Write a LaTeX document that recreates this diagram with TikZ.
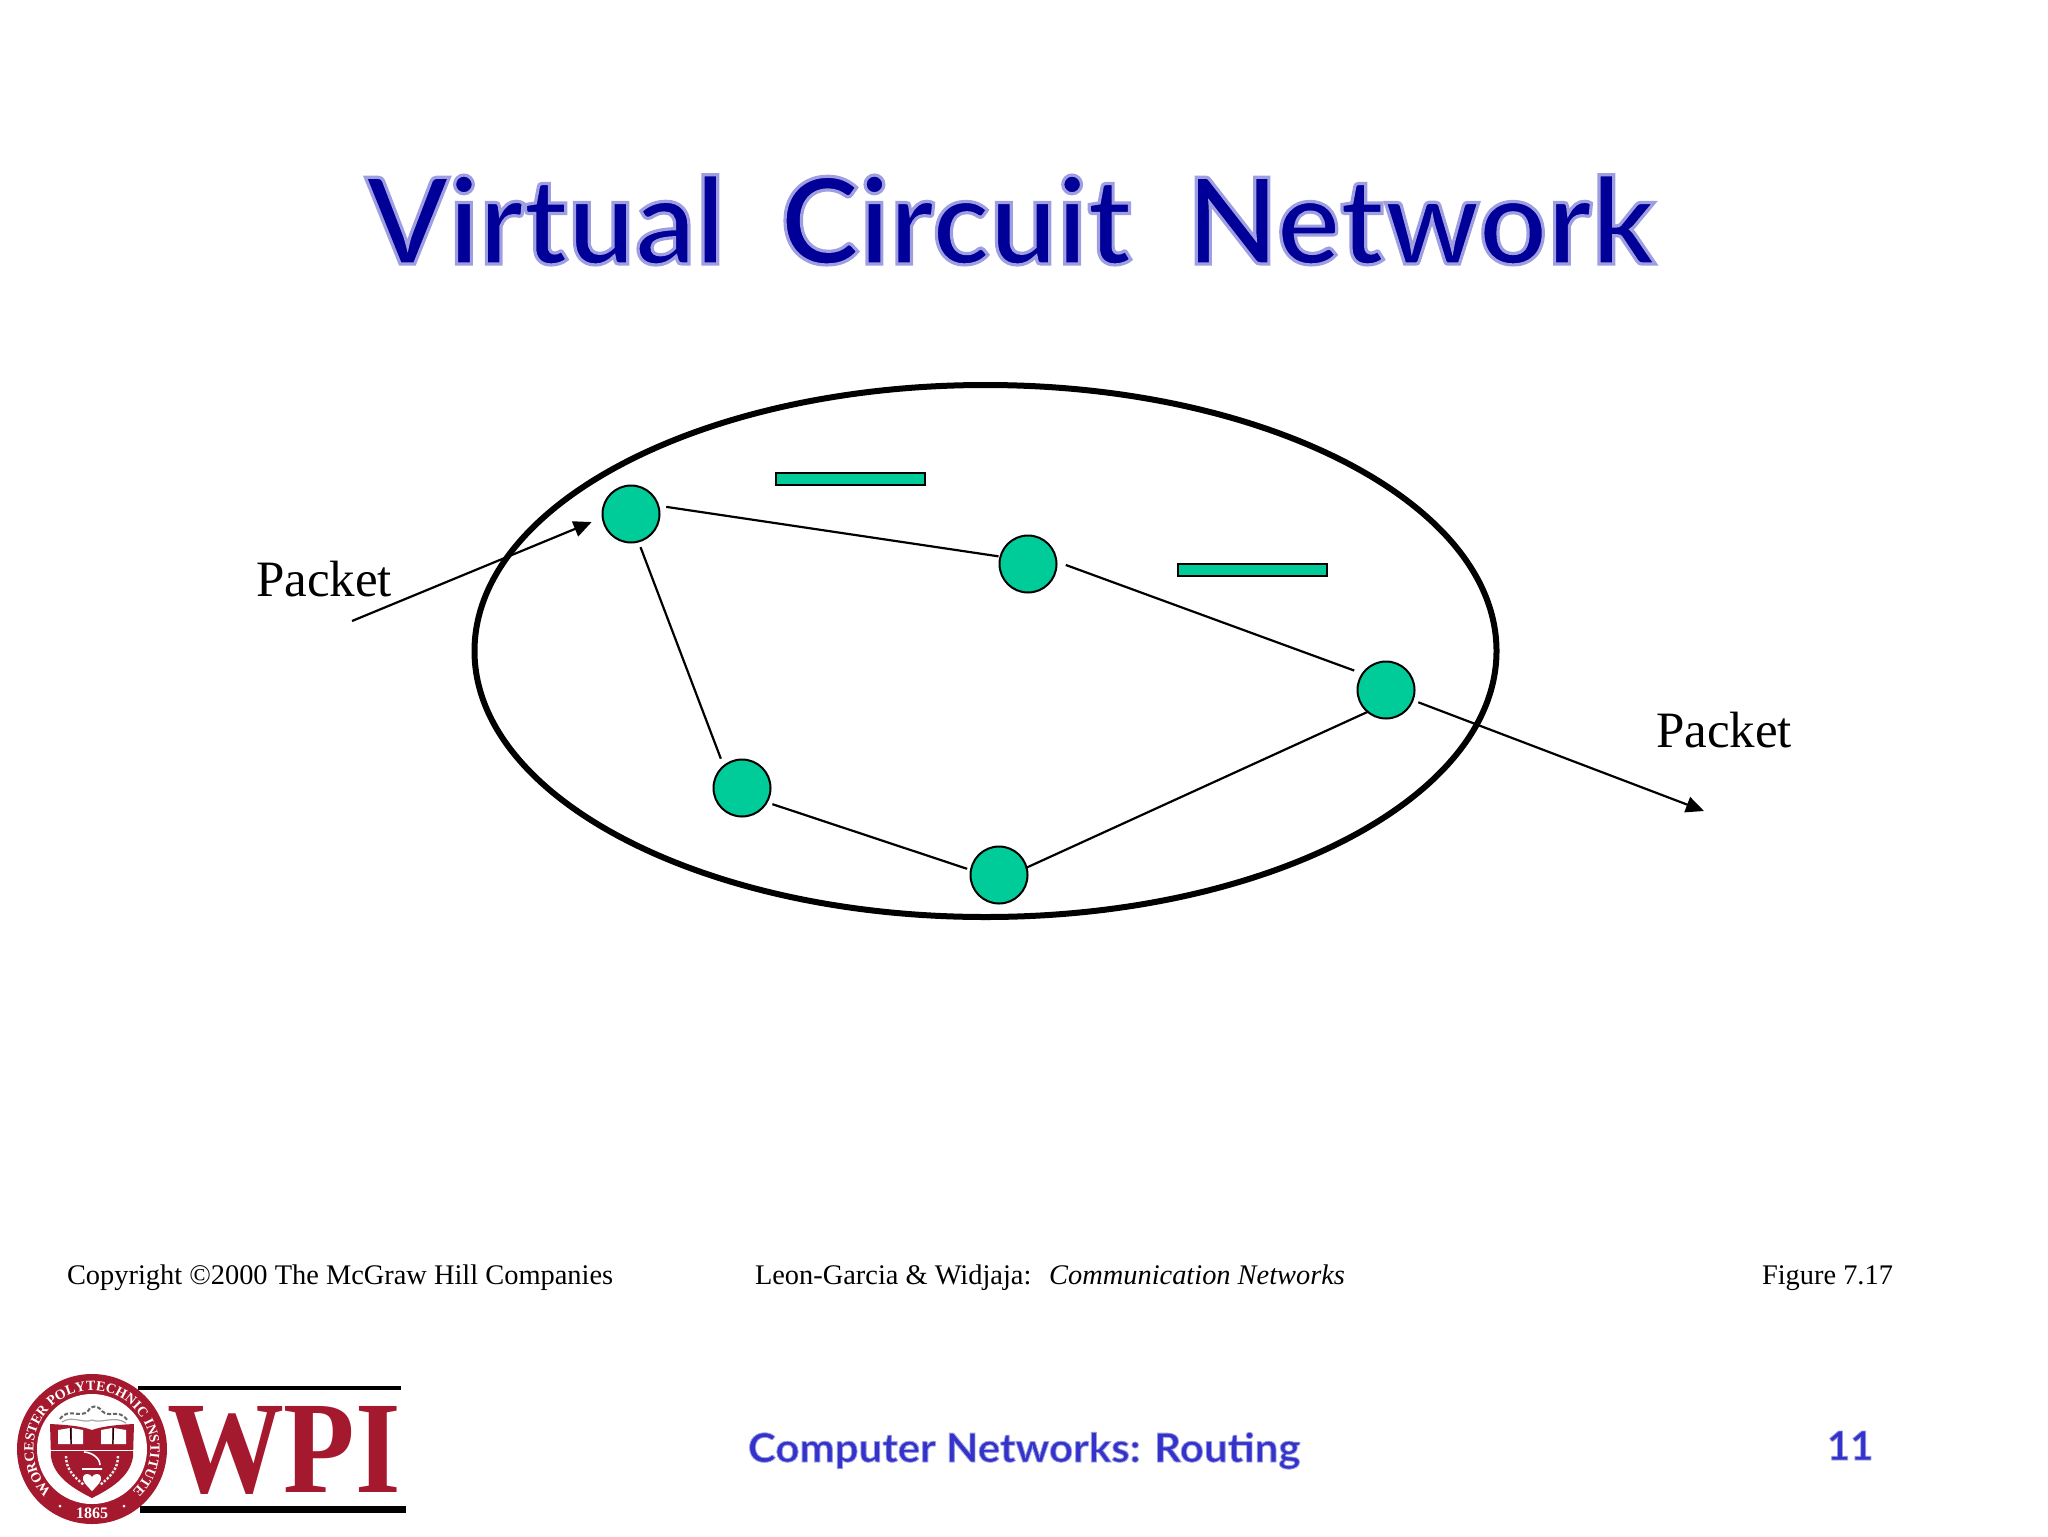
\documentclass[tikz,border=0pt]{standalone}
\usepackage{fontspec}
\usepackage{graphicx}
\setmainfont{Liberation Serif}
\newfontfamily\titlefont{Lato}
\usetikzlibrary{arrows.meta,shapes.geometric,decorations.text}
\definecolor{nodegreen}{HTML}{00CC99}
\definecolor{titleblue}{HTML}{000099}
\definecolor{footblue}{HTML}{3333CC}
\definecolor{wpired}{HTML}{A5192E}
% soft halo round a text: thin pale stroke over the filled glyphs
\newcommand{\softedge}[2]{\special{pdf:code 2 Tr #1 w 0.62 0.62 0.88 RG}#2\special{pdf:code 0 Tr 1 w 0 0 0 RG}}
\tikzset{
  router/.style={circle,draw=black,fill=nodegreen,line width=1pt,minimum size=28.5pt,inner sep=0pt,outer sep=0pt},
  link/.style={black,line width=1.1pt},
  flow/.style={black,line width=1.1pt,-{Triangle[length=9pt,width=8pt]}},
  bar/.style={draw=black,fill=nodegreen,line width=1.1pt,minimum width=74.5pt,minimum height=6pt,inner sep=0pt,outer sep=0pt},
  cloud/.style={ellipse,draw=black,line width=3pt,minimum width=511pt,minimum height=266pt,inner sep=0pt,outer sep=0pt},
  txt/.style={anchor=base west,inner sep=0pt,outer sep=0pt},
  packet/.style={txt,font=\fontsize{25.5}{26}\selectfont},
  foot/.style={txt,font=\fontsize{14.2}{16}\selectfont},
  ttl/.style={txt,font=\titlefont\bfseries\fontsize{60}{62}\selectfont},
  sub/.style={txt,font=\titlefont\bfseries\fontsize{20}{22}\selectfont},
}
\begin{document}
\begin{tikzpicture}[x=0.5pt,y=-0.5pt]
\useasboundingbox (0,0) rectangle (2048,1536);
% title
\node[ttl,text=titleblue] (title) at (366,264) {\scalebox{0.993}[1]{\softedge{1.6}{Virtual\hspace{0.22em} Circuit\hspace{0.22em} Network}}};
% network
\node[cloud] (net) at (985.5,651) {};
\node[router] (a) at (631,514) {};
\node[router] (b) at (1028,564) {};
\node[router] (c) at (1386,690) {};
\node[router] (d) at (742,788) {};
\node[router] (e) at (999,875) {};
\node[bar] (p1) at (850.5,479) {};
\node[bar] (p2) at (1252.5,570) {};
\draw[link,shorten <=4pt,shorten >=1pt] (a.17) -- (b.165);
\draw[link,shorten <=5pt,shorten >=4.5pt] (b.5) -- (c.145);
\draw[link,shorten <=3pt,shorten >=4pt] (a.285) -- (d.130);
\draw[link,shorten <=3pt,shorten >=2pt] (d.330) -- (e.170);
\draw[link] (e.15) -- (c.230);
\coordinate (inStart) at (352,621);
\coordinate (outEnd) at (1704,811);
\draw[flow,shorten >=6pt] (inStart) -- (a.187);
\draw[flow,shorten <=3pt] (c) -- (outEnd);
\node[packet] (pin) at (256,596) {Packet};
\node[packet] (pout) at (1656,747) {Packet};
% footer
\node[foot] (copy) at (67,1284) {Copyright ©2000 The McGraw Hill Companies};
\node[foot] (book) at (755,1284) {Leon-Garcia \& Widjaja:\ \ \hspace{1.8pt}\textit{Communication Networks}};
\node[foot] (fig) at (1762,1284) {Figure 7.17};
\node[sub,text=footblue] (subt) at (748,1462) {\scalebox{1.05}[1]{\softedge{0.4}{Computer Networks: Routing}}};
\node[sub,text=footblue] (num) at (1827,1460) {\softedge{0.4}{11}};
% logo
\fill[black] (138,1386) rectangle (401,1390);
\fill[black] (140,1506) rectangle (406,1513);
\node[txt,text=wpired,font=\bfseries\fontsize{65.7}{66}\selectfont] (wpi) at (167,1492) {\scalebox{0.89}[1]{WPI}};
\begin{scope}[shift={(92,1449)},x=0.5pt,y=0.5pt]
  \fill[wpired] (0,0) circle[radius=75];
  \fill[white] (0,0) circle[radius=55];
  \path[decorate,decoration={text along path,text align=center,
    text={|\bfseries\fontsize{7}{8}\selectfont\color{white}|WORCESTER POLYTECHNIC INSTITUTE}}]
    (222:58.5) arc[start angle=222,end angle=-42,radius=58.5];
  \node[white,inner sep=0pt,font=\bfseries\fontsize{8}{9}\selectfont] (yr) at (0,-64) {1865};
  \fill[white] (-32,-57) circle[radius=1.5] (32,-57) circle[radius=1.5];
  % shield
  \fill[wpired] (-42,25) .. controls (-20,24) and (-8,22) .. (0,19) .. controls (8,22) and (20,24) .. (42,25)
     -- (41,-8) .. controls (38,-28) and (18,-40) .. (0,-49) .. controls (-18,-40) and (-38,-28) .. (-41,-8) -- cycle;
  \fill[white] (-34,19) -- (-22,21) -- (-21,5) -- (-34,5) -- cycle (-20,21) -- (-9,19) -- (-9,5) -- (-20,5) -- cycle;
  \fill[white] (9,19) -- (20,21) -- (20,5) -- (9,5) -- cycle (22,21) -- (34,19) -- (34,5) -- (21,5) -- cycle;
  \draw[black,line width=0.6pt] (-21.5,21) -- (-21,5) (21.5,21) -- (21,5);
  \draw[white,line width=0.5pt] (-42,-1) -- (42,-1);
  % motto scroll
  \draw[gray!80!black,line width=1pt,dash pattern=on 2pt off 1pt] (-32,30) .. controls (-24,42) and (-12,30) .. (-4,38) .. controls (-2,44) and (6,44) .. (10,38)
     .. controls (18,30) and (26,42) .. (36,28);
  \draw[gray!70,line width=0.6pt] (-30,27) .. controls (-20,34) and (-8,25) .. (0,29) .. controls (10,25) and (22,34) .. (34,26);
  % wreath, lamp and heart
  \draw[white!85!gray,line width=1.2pt,dash pattern=on 1.2pt off 0.8pt] (-26,-7) .. controls (-26,-20) and (-18,-28) .. (-8,-36);
  \draw[white!85!gray,line width=1.2pt,dash pattern=on 1.2pt off 0.8pt] (26,-7) .. controls (26,-20) and (18,-28) .. (8,-36);
  \draw[white,line width=0.8pt] (-8,-3) .. controls (-2,-3) and (8,-8) .. (8,-16) (-10,-20) -- (10,-20);
  \fill[white] (0,-42) .. controls (-6,-36) and (-10,-32) .. (-9,-28) .. controls (-8,-24) and (-2,-24) .. (0,-28)
     .. controls (2,-24) and (8,-24) .. (9,-28) .. controls (10,-32) and (6,-36) .. (0,-42) -- cycle;
\end{scope}
\end{tikzpicture}
\end{document}
